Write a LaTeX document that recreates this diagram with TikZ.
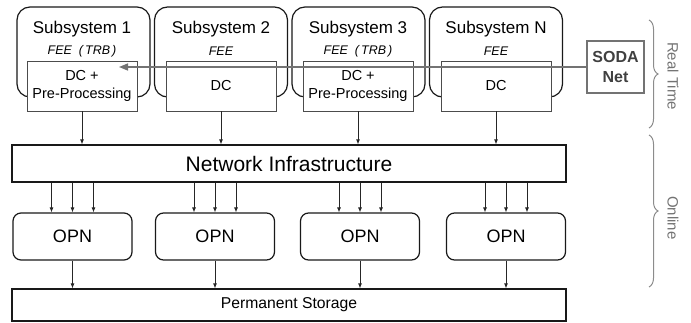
\documentclass[tikz,border=0pt]{standalone}
\usepackage{fontspec}
\setmainfont{Liberation Sans}
\usetikzlibrary{arrows.meta,decorations.pathreplacing}

\tikzset{
subsys/.style={
  draw=black!90,
  line width=1.2pt,
  rounded corners=13pt,
  minimum width=133pt,
  minimum height=90pt,
},
subtitle/.style={font=\fontsize{17}{20}\selectfont, inner sep=0pt},
fee/.style={font=\fontsize{12.5}{15}\selectfont\itshape, inner sep=0pt},
dcbox/.style={
  draw=black!70,
  fill=white,
  line width=.9pt,
  minimum width=110pt,
  minimum height=50pt,
  inner sep=0pt,
  align=center,
  font=\fontsize{14.5}{18}\selectfont,
},
bar/.style={
  draw=black!90,
  line width=1.3pt,
  inner sep=0pt,
},
opn/.style={
  draw=black!90,
  line width=1.2pt,
  rounded corners=8pt,
  minimum width=119pt,
  minimum height=47pt,
  font=\fontsize{18}{20}\selectfont,
},
sodabox/.style={
  draw=black!55,
  line width=1.3pt,
  minimum width=57pt,
  minimum height=52pt,
  inner sep=0pt,
  align=center,
  text=black!75,
  font=\fontsize{16}{20}\selectfont\bfseries,
},
flow/.style={-{Latex[length=5pt,width=4pt]}, draw=black!85, line width=.8pt},
sodaline/.style={-{Triangle[length=9pt,width=7pt]}, draw=black!55, line width=1.5pt},
timebrace/.style={decorate, decoration={brace,amplitude=9pt}, draw=black!45, line width=1pt},
phase/.style={rotate=-90, text=black!55, font=\fontsize{15}{18}\selectfont, inner sep=0pt},
}

\begin{document}
\begin{tikzpicture}[x=1pt,y=-1pt]
\useasboundingbox (0,0) rectangle (691,322);
                  % subsystems
\node[subsys] (sub-1) at (83.5,52) {};
\node[subsys] (sub-2) at (221,52) {};
\node[subsys] (sub-3) at (358.5,52) {};
\node[subsys] (sub-n) at (496,52) {};
\node[subtitle] (title-1) at (82,29) {Subsystem 1};
\node[subtitle] (title-2) at (221,29) {Subsystem 2};
\node[subtitle] (title-3) at (358,29) {Subsystem 3};
\node[subtitle] (title-n) at (496,29) {Subsystem N};
\node[fee] (fee-1) at (82,51) {FEE\ \ (\,TRB\,)};
\node[fee] (fee-2) at (221,51) {FEE};
\node[fee] (fee-3) at (358,51) {FEE\ \ (\,TRB\,)};
\node[fee] (fee-n) at (496,51) {FEE};
                  % data concentrators
\node[dcbox] (dc-1) at (82,86) {DC +\\Pre-Processing};
\node[dcbox] (dc-2) at (221,86) {DC};
\node[dcbox] (dc-3) at (358,86) {DC +\\Pre-Processing};
\node[dcbox] (dc-n) at (496,86) {DC};
                  % soda net
\node[sodabox] (soda) at (615.5,67) {SODA\\Net};
\coordinate (soda-tip) at (119,67);
\draw[sodaline] (soda.west) -- (soda-tip);
                  % network
\node[bar, minimum width=554pt, minimum height=37pt,
  font=\fontsize{21}{24}\selectfont] (net) at (289,163.5) {Network Infrastructure};
\draw[flow] (dc-1.south) -- (dc-1.south |- net.north);
\draw[flow] (dc-2.south) -- (dc-2.south |- net.north);
\draw[flow] (dc-3.south) -- (dc-3.south |- net.north);
\draw[flow] (dc-n.south) -- (dc-n.south |- net.north);
                  % online processing nodes
\node[opn] (opn-1) at (72.5,236.5) {OPN};
\node[opn] (opn-2) at (215,236.5) {OPN};
\node[opn] (opn-3) at (360,236.5) {OPN};
\node[opn] (opn-4) at (506,236.5) {OPN};
\draw[flow] ([xshift=-21pt]opn-1.north |- net.south) -- ([xshift=-21pt]opn-1.north);
\draw[flow] (opn-1.north |- net.south) -- (opn-1.north);
\draw[flow] ([xshift=21pt]opn-1.north |- net.south) -- ([xshift=21pt]opn-1.north);
\draw[flow] ([xshift=-21pt]opn-2.north |- net.south) -- ([xshift=-21pt]opn-2.north);
\draw[flow] (opn-2.north |- net.south) -- (opn-2.north);
\draw[flow] ([xshift=21pt]opn-2.north |- net.south) -- ([xshift=21pt]opn-2.north);
\draw[flow] ([xshift=-21pt]opn-3.north |- net.south) -- ([xshift=-21pt]opn-3.north);
\draw[flow] (opn-3.north |- net.south) -- (opn-3.north);
\draw[flow] ([xshift=21pt]opn-3.north |- net.south) -- ([xshift=21pt]opn-3.north);
\draw[flow] ([xshift=-21pt]opn-4.north |- net.south) -- ([xshift=-21pt]opn-4.north);
\draw[flow] (opn-4.north |- net.south) -- (opn-4.north);
\draw[flow] ([xshift=21pt]opn-4.north |- net.south) -- ([xshift=21pt]opn-4.north);
                  % storage
\node[bar, minimum width=554pt, minimum height=32pt,
  font=\fontsize{15.7}{18}\selectfont] (store) at (289,305) {Permanent Storage};
\draw[flow] (opn-1.south) -- (opn-1.south |- store.north);
\draw[flow] (opn-2.south) -- (opn-2.south |- store.north);
\draw[flow] (opn-3.south) -- (opn-3.south |- store.north);
\draw[flow] (opn-4.south) -- (opn-4.south |- store.north);
                  % phases
\coordinate (rt-top) at (649,20);
\coordinate (rt-bot) at (649,128);
\coordinate (on-top) at (649,135);
\coordinate (on-bot) at (649,287);
\draw[timebrace] (rt-top) -- (rt-bot);
\draw[timebrace] (on-top) -- (on-bot);
\node[phase] (rt-label) at (673,76) {Real Time};
\node[phase] (on-label) at (673,218) {Online};
\end{tikzpicture}
\end{document}
